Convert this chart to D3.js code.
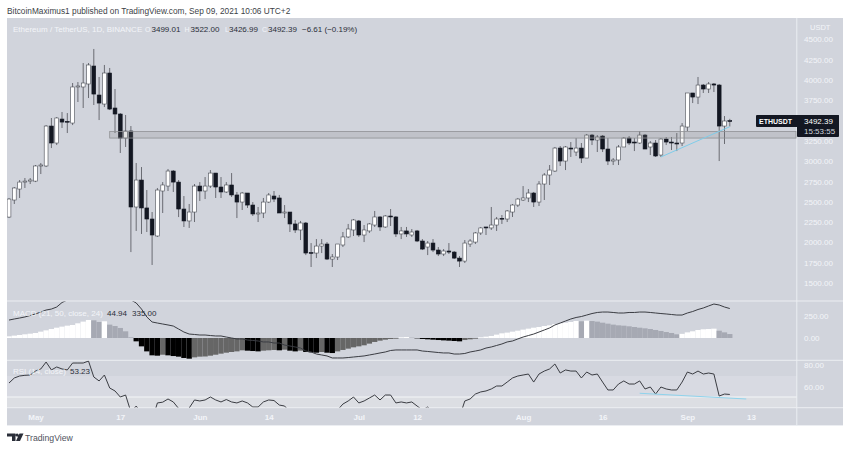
<!DOCTYPE html>
<html><head><meta charset="utf-8">
<script src="https://cdn.jsdelivr.net/npm/d3@7"></script>
<style>html,body{margin:0;padding:0;background:#fff}svg{display:block}text{font-family:"Liberation Sans",Arial,sans-serif}</style>
</head><body><svg id="c" width="850" height="450"></svg>
<script>
const opens=[2312,2522,2657,2743,2755,2755,2941,2941,3433,3224,
3519,3490,3470,3914,3914,3951,4172,3815,3704,4086,
3655,3581,3285,3372,2436,2768,2424,2288,2079,2633,
2694,2879,2743,2411,2264,2374,2694,2633,2694,2854,
2682,2621,2707,2584,2497,2608,2460,2350,2362,2497,
2571,2547,2362,2374,2227,2153,2239,1875,1869,1955,
1980,1795,1820,1968,2067,2153,2264,2091,2141,2214,
2313,2190,2325,2313,2104,2141,2091,2141,2017,1943,
1992,1906,1857,1894,1881,1807,1770,1980,2004,2116,
2190,2178,2214,2296,2288,2374,2460,2522,2547,2608,
2497,2719,2830,2879,3162,3002,3162,3113,3162,3039,
3322,3261,3310,3150,3002,3015,3175,3285,3236,3224,
3322,3175,3224,3076,3273,3236,3224,3224,3421,3840,
3790,3938,3889,3951,3938,3433,3499.01];
const highs=[2547,2682,2768,2793,2793,2953,2978,3445,3532,3544,
3606,3593,3963,3975,4209,4209,4382,4037,4185,4148,
3889,3593,3569,3433,2978,2928,2645,2374,2670,2743,
2904,2891,2768,2571,2473,2719,2743,2805,2891,2854,
2805,2743,2854,2621,2621,2608,2497,2436,2547,2608,
2633,2584,2460,2374,2276,2264,2251,1992,2041,2041,
2004,1857,1980,2128,2227,2288,2276,2214,2239,2387,
2325,2337,2411,2325,2190,2190,2165,2153,2041,2017,
2041,1943,1918,1992,1894,1832,2029,2041,2128,2190,
2190,2436,2313,2337,2399,2473,2547,2694,2657,2621,
2755,2854,2953,3175,3187,3187,3236,3285,3224,3335,
3335,3322,3322,3285,3039,3199,3298,3310,3285,3372,
3335,3248,3261,3285,3298,3298,3347,3470,3840,3840,
4037,3951,3975,3963,3951,3556,3522];
const lows=[2300,2473,2547,2670,2719,2743,2842,2928,3162,3199,
3409,3347,3445,3729,3655,3778,3692,3507,3667,3630,
3347,3101,3175,1881,2141,2104,2128,1722,2067,2362,
2633,2621,2312,2190,2178,2251,2510,2534,2670,2547,
2547,2608,2559,2300,2399,2424,2325,2251,2300,2485,
2497,2362,2300,2128,2116,2029,1844,1697,1807,1869,
1783,1697,1783,1943,2054,2079,2067,2004,2116,2190,
2141,2178,2202,2067,2041,2067,2067,2004,1906,1844,
1881,1832,1832,1857,1795,1697,1746,1943,1980,2091,
2091,2153,2141,2227,2251,2313,2436,2510,2497,2436,
2448,2522,2707,2867,2941,2891,3052,3064,2978,3039,
3199,3113,3113,2953,2953,2953,3175,3199,3125,3212,
3150,3076,3052,3052,3199,3138,3125,3187,3372,3716,
3704,3840,3840,3852,3002,3212,3426.99];
const closes=[2534,2670,2743,2755,2768,2941,2953,3433,3224,3532,
3482,3482,3914,3926,3963,4185,3827,3716,4086,3642,
3581,3285,3372,2436,2768,2424,2288,2091,2645,2707,
2879,2743,2411,2264,2374,2694,2633,2694,2854,2682,
2621,2707,2584,2497,2608,2460,2350,2362,2497,2584,
2534,2362,2374,2227,2153,2239,1869,1869,1955,1980,
1795,1820,1980,2067,2165,2276,2091,2153,2227,2313,
2190,2325,2313,2104,2141,2104,2128,2017,1918,1992,
1906,1857,1894,1881,1807,1770,1992,2017,2116,2178,
2178,2214,2288,2288,2387,2460,2534,2547,2608,2497,
2719,2830,2891,3162,3002,3175,3150,3162,3039,3322,
3261,3298,3150,3002,3015,3175,3285,3224,3224,3322,
3150,3224,3064,3273,3236,3224,3212,3433,3840,3790,
3938,3889,3951,3938,3433,3495,3492.39];
const macdHist=[19,27,34,42,49,57,72,87,102,117,
129,140,148,167,186,205,201,182,190,152,
136,114,76,8,-38,-95,-152,-197,-201,-190,
-197,-205,-212,-227,-235,-220,-212,-210,-201,-190,
-178,-167,-159,-152,-140,-144,-148,-152,-144,-140,
-136,-140,-133,-144,-152,-144,-159,-163,-167,-159,
-167,-171,-152,-136,-121,-106,-95,-83,-64,-45,
-30,-19,-11,-8,8,11,4,-4,-11,-15,
-19,-23,-27,-30,-34,-38,-23,-15,-8,8,
15,23,38,53,61,72,83,95,106,117,
125,136,144,159,167,174,182,193,190,197,
193,186,174,163,152,144,140,133,125,117,
110,102,91,80,68,57,42,47,64,76,
91,99,102,106,83,64,44.94];
const macdLine=[204,216,227,239,256,273,295,318,329,352,
403,432,466,500,523,545,557,568,557,545,
523,488,466,432,398,329,239,182,170,159,
148,136,102,68,45,40,34,34,28,23,
23,11,0,-11,-11,-23,-28,-34,-45,-45,
-57,-57,-80,-91,-102,-114,-148,-159,-182,-193,
-204,-227,-227,-227,-222,-216,-210,-204,-193,-182,
-170,-159,-142,-136,-136,-136,-136,-136,-148,-153,
-159,-165,-170,-170,-182,-182,-176,-159,-148,-136,
-114,-102,-85,-68,-45,-34,-11,11,28,45,
68,91,114,148,170,193,216,233,244,261,
278,290,295,295,290,284,284,290,290,295,
295,290,284,278,273,267,261,261,284,301,
324,341,364,386,375,352,335];
const rsiLine=[63.6,68.2,70,70.6,70.9,74.5,76.4,82.7,75.5,78.2,
76.4,75.5,81.8,81.8,81.8,83.6,69.1,65.5,70.9,59.1,
56.4,50.9,52.7,37.3,42.7,36.4,32.7,30,45.5,46.2,
49.1,46.4,40.5,37.3,40.9,48.2,47.3,48.2,50.9,48.2,
46.4,48.6,46.4,45.5,47.3,45.5,41.8,41.8,46.4,48.2,
47.7,43.6,42.7,37.3,39.1,39.1,31.8,32.7,36.4,37.3,
32.7,36.4,39.1,44.5,47.3,50.9,45.5,47.3,50,52.7,
48.2,52.7,52.7,45.5,46.4,45.5,46.4,42.7,39.1,41.8,
37.3,36.4,37.3,37.3,33.6,32.7,47.3,49.1,53.6,55.5,
56.4,58.2,60.9,60.9,64.5,68.2,70,70.9,71.8,64.5,
71.8,74.5,76.4,80.9,72.7,75.5,74.5,74.5,68.2,73.6,
70.9,71.8,64.5,57.3,57.3,62.7,65.5,62.7,62.7,65.5,
58.2,60,53.6,60,58.2,57.3,57.3,64.5,73.6,71.8,
74.5,71.8,72.7,71.8,51.8,53.6,53.23];
const priceTicks=[1500,1750,2000,2250,2500,2750,3000,3250,3500,3750,4000,4250,4500];
const macdTicks=[0,250];
const rsiTicks=[60,80];
const timeTickDays=[5,21,36,49,66,77,97,112,128,140];
const timeTickLabels=["May","17","Jun","14","Jul","12","Aug","16","Sep","13"];
const zonePrices=[3285,3365];
const zoneStartDay=19;
const priceTrend=[[123,3052],[136,3425]];
const rsiTrend=[[119,54.3],[139.1,49.1]];
const rsiHLine=50.9;

const W="#f3f5f9",BG="#d1d4dc",INK="#131722",FS=8;
const svg=d3.select("#c");
const x=d3.scaleLinear().domain([0,136]).range([9,729.8]);
const y=d3.scaleLinear().domain([1500,4000]).range([283,80]);
const ym=d3.scaleLinear().domain([0,250]).range([338,316]);
const yr=d3.scaleLinear().domain([60,80]).range([387,365]);

svg.append("rect").attr("x",7).attr("y",18).attr("width",836).attr("height",408).attr("fill",BG);
const defs=svg.append("defs");
[["cm",18,283],["cd",301.5,58.5],["cr",360.5,47]].forEach(([id,t,h])=>{
  defs.append("clipPath").attr("id",id).append("rect").attr("x",7).attr("y",t).attr("width",790).attr("height",h);
});
svg.append("rect").attr("x",7).attr("y",yr(70)).attr("width",790).attr("height",408-yr(70)).attr("fill","#d8dae2");
svg.append("rect").attr("x",7).attr("y",yr(rsiHLine)).attr("width",790).attr("height",408-yr(rsiHLine)).attr("fill","#dcdee3");
svg.append("line").attr("x1",7).attr("x2",797).attr("y1",yr(rsiHLine)).attr("y2",yr(rsiHLine)).attr("stroke","#f4f5f8").attr("stroke-width",1.2);
[301,360.3,407.7,425.5].forEach(v=>svg.append("line").attr("x1",7).attr("x2",843).attr("y1",v).attr("y2",v).attr("stroke","#eceef2").attr("stroke-width",1));
svg.append("line").attr("x1",796.8).attr("x2",796.8).attr("y1",18).attr("y2",426).attr("stroke","#eceef2").attr("stroke-width",1);

const days=d3.range(opens.length);
const gc=svg.append("g").attr("clip-path","url(#cm)");
gc.selectAll("line.w").data(days).join("line").attr("class","w")
 .attr("x1",i=>x(i)).attr("x2",i=>x(i)).attr("y1",i=>y(highs[i])).attr("y2",i=>y(lows[i]))
 .attr("stroke","#5d6067").attr("stroke-width",0.9);
gc.selectAll("rect.b").data(days).join("rect").attr("class","b")
 .attr("x",i=>x(i)-1.9).attr("width",3.8)
 .attr("y",i=>y(Math.max(opens[i],closes[i])))
 .attr("height",i=>Math.max(0.8,Math.abs(y(opens[i])-y(closes[i]))))
 .attr("fill",i=>closes[i]>=opens[i]?"#fff":INK)
 .attr("stroke",i=>closes[i]>=opens[i]?"#4a4d55":INK).attr("stroke-width",0.6);
svg.append("rect").attr("x",x(zoneStartDay)).attr("width",796-x(zoneStartDay))
 .attr("y",y(zonePrices[1])).attr("height",y(zonePrices[0])-y(zonePrices[1]))
 .attr("fill","rgba(125,125,125,.2)").attr("stroke","#8f9194").attr("stroke-width",0.8);
const lm=d3.line().x(d=>x(d[0])).y(d=>y(d[1]));
svg.append("path").attr("d",lm(priceTrend)).attr("fill","none").attr("stroke","#7fcdea").attr("stroke-width",1);

const gd=svg.append("g").attr("clip-path","url(#cd)");
const histColor=i=>{const v=macdHist[i],p=i?macdHist[i-1]:v-1;
  return v>=0?(v>=p?"#fff":"#a6a9b3"):(v<p?"#000":"#666");};
gd.selectAll("rect").data(days).join("rect")
 .attr("x",i=>x(i)-2.65).attr("width",5.3)
 .attr("y",i=>Math.min(ym(0),ym(macdHist[i])))
 .attr("height",i=>Math.abs(ym(macdHist[i])-ym(0)))
 .attr("fill",i=>histColor(i));
gd.append("path").attr("d",d3.line().x((d,i)=>x(i)).y(d=>ym(d))(macdLine)).attr("fill","none").attr("stroke","#3a3c42").attr("stroke-width",1);

const gr=svg.append("g").attr("clip-path","url(#cr)");
gr.append("path").attr("d",d3.line().x((d,i)=>x(i)).y(d=>yr(d))(rsiLine)).attr("fill","none").attr("stroke","#3a3c42").attr("stroke-width",1);
svg.append("path").attr("d",d3.line().x(d=>x(d[0])).y(d=>yr(d[1]))(rsiTrend)).attr("fill","none").attr("stroke","#8fd3ec").attr("stroke-width",1);

function styleAxis(g){g.select(".domain").remove();g.selectAll("line").remove();
 g.selectAll("text").attr("fill",W).attr("font-size",FS).style("font-family",'"Liberation Sans",sans-serif');}
const fmt=d3.format(".2f");
svg.append("g").attr("transform","translate(804,0)").call(d3.axisRight(y).tickValues(priceTicks).tickFormat(fmt).tickSize(0).tickPadding(0)).call(styleAxis);
svg.append("g").attr("transform","translate(804,0)").call(d3.axisRight(ym).tickValues(macdTicks).tickFormat(fmt).tickSize(0).tickPadding(0)).call(styleAxis);
svg.append("g").attr("transform","translate(804,0)").call(d3.axisRight(yr).tickValues(rsiTicks).tickFormat(fmt).tickSize(0).tickPadding(0)).call(styleAxis);
svg.append("g").attr("transform","translate(0,414)").call(d3.axisBottom(x).tickValues(timeTickDays).tickFormat((d,i)=>timeTickLabels[i]).tickSize(0).tickPadding(0)).call(styleAxis)
 .selectAll("text").attr("font-weight",700);

function t(s,px,py,o={}){return svg.append("text").attr("x",px).attr("y",py).attr("fill",o.fill||INK).attr("font-size",o.size||FS).attr("font-weight",o.w||400).attr("text-anchor",o.a||"start").text(s);}
t("USDT",810,30,{fill:W,size:7.5});
t("BitcoinMaximus1 published on TradingView.com, Sep 09, 2021 10:06 UTC+2",7,13.5,{fill:"#3c3f47",size:8.3});
t("Ethereum / TetherUS, 1D, BINANCE",13,32,{fill:W});
[["O",145,"3499.01",151.5],["H",184.5,"3522.00",190.5],["L",225,"3426.99",229],["C",262,"3492.39",268]].forEach(r=>{
 t(r[0],r[1],32,{fill:W,size:7});t(r[2],r[3],32,{fill:"#2a2e39"});});
t("−6.61 (−0.19%)",302,32,{fill:"#2a2e39"});
t("MACD (21, 50, close, 24)",13,316,{fill:W});
t("44.94",107,316,{fill:"#2a2e39"});t("335.00",132,316,{fill:"#2a2e39"});
t("RSI (14, close)",13,374,{fill:W});t("53.23",70,374,{fill:"#2a2e39"});

svg.append("rect").attr("x",756).attr("y",115).attr("width",83).attr("height",12).attr("fill",INK).attr("rx",1);
svg.append("rect").attr("x",797).attr("y",115).attr("width",42).attr("height",22).attr("fill",INK).attr("rx",1);
t("ETHUSDT",759,124,{fill:"#fff",size:7,w:700});
t("3492.39",804,124,{fill:"#fff"});
t("15:53:55",804,134,{fill:"#d1d4dc"});

svg.append("path").attr("fill","#2a2e39").attr("d","M7 433.5h8.5v7.5h-3.5v-4.5h-5zM19.5 433.5h4l-3.5 7.5h-4zM15.5 435a1.6 1.6 0 1 0 3.2 0a1.6 1.6 0 1 0 -3.2 0z");
t("TradingView",25,441,{fill:"#50535e",size:8.7});
</script></body></html>
